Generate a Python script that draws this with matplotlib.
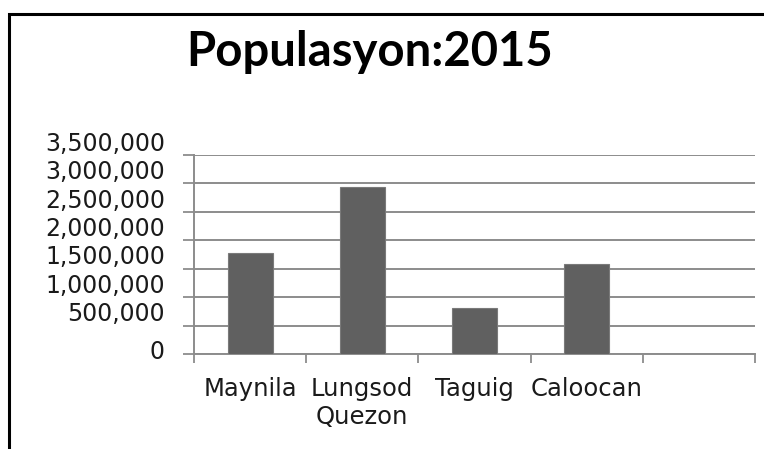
## Bar chart of 2015 population for a few Metro Manila cities
import numpy as np
import matplotlib.pyplot as plt
import matplotlib.transforms as mtransforms
from matplotlib.patches import Rectangle
from matplotlib.ticker import FuncFormatter

## data
categories = ["Maynila", "Lungsod\nQuezon", "Taguig", "Caloocan", ""]
population = [1780148, 2936116, 804915, 1583978, np.nan]
y_ticks = [0, 500000, 1000000, 1500000, 2000000, 2500000, 3000000, 3500000]
title = "Populasyon:2015"

fig = plt.figure(figsize=(7.64, 4.49), dpi=100)

## black frame of the chart area (runs off the right and bottom edge)
fig.patches.append(Rectangle((9 / 764, -0.05), 1.2, 1.05 - 14 / 449,
                             transform=fig.transFigure, fill=False,
                             edgecolor="black", linewidth=2.2))

ax = fig.add_axes([194 / 764, 94.7 / 449, 561 / 764, 199.3 / 449])
pos = np.arange(len(categories)) + 0.5
ax.bar(pos, population, width=0.4, color="#606060",
       edgecolor="#7a7a7a", linewidth=0.8, zorder=3)

ax.set_xlim(0, len(categories))
ax.set_ylim(0, 3500000)
ax.set_yticks(y_ticks)
ax.yaxis.set_major_formatter(FuncFormatter(lambda v, p: "{:,.0f}".format(v)))
ax.grid(axis="y", color="#8c8c8c", linewidth=1.4, zorder=0)

ax.set_xticks(pos)
ax.set_xticklabels(categories, linespacing=1.25)
ax.set_xticks(np.arange(len(categories) + 1), minor=True)
ax.tick_params(axis="x", which="major", length=0, pad=16, labelsize=17.5)
ax.tick_params(axis="x", which="minor", length=6.5, width=1.3,
               color="#8c8c8c")
ax.tick_params(axis="y", length=8, width=1.3, color="#8c8c8c",
               pad=13, labelsize=17)

for s in ["top", "right"]:
    ax.spines[s].set_visible(False)
for s in ["left", "bottom"]:
    ax.spines[s].set_color("#8c8c8c")
    ax.spines[s].set_linewidth(1.4)

## the y labels in the reference sit above their gridlines
for v, lab in zip(y_ticks, ax.get_yticklabels()):
    dy = 3.6 if v == 0 else 10
    lab.set_transform(lab.get_transform() +
                      mtransforms.ScaledTranslation(0, dy / 72, fig.dpi_scale_trans))

for lab in ax.get_xticklabels() + ax.get_yticklabels():
    lab.set_color("#1a1a1a")

fig.text(370 / 764, 1 - 52 / 449, title, ha="center", va="center",
         fontsize=34, fontweight="bold", family="Lato", color="black")

fig.savefig("out.png", dpi=100)
